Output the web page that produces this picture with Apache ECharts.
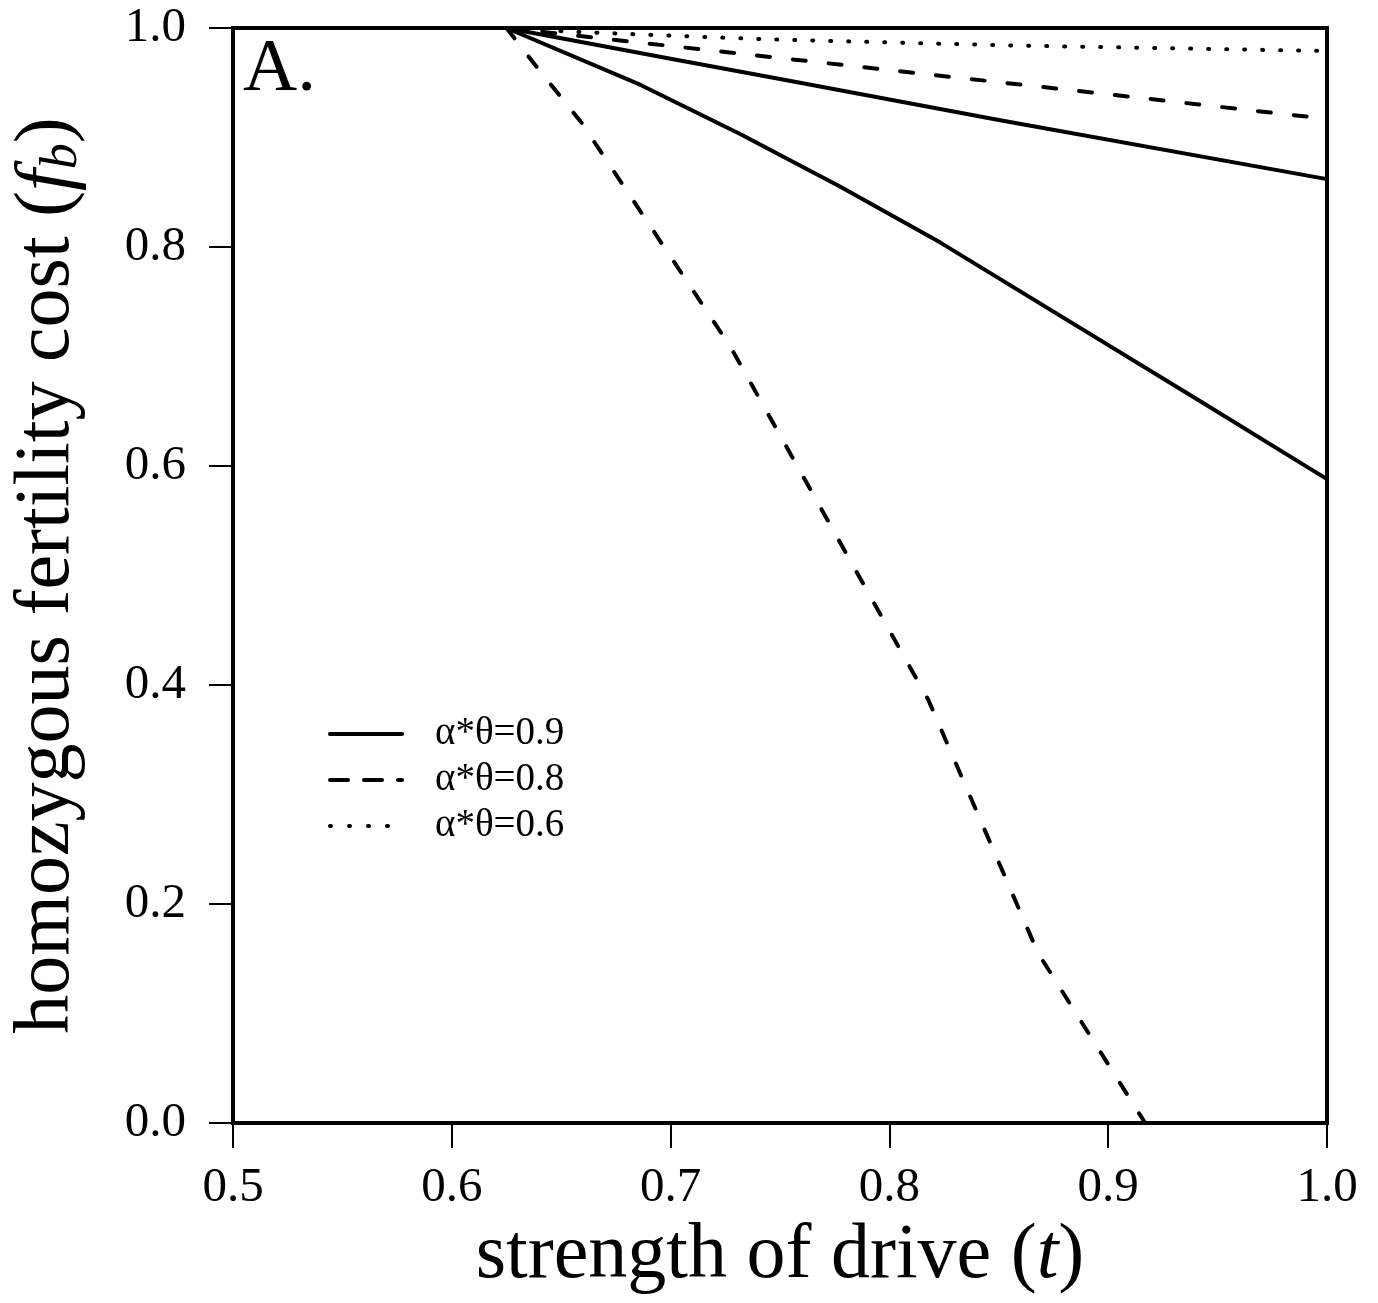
<!DOCTYPE html>
<html>
<head>
<meta charset="utf-8">
<script src="https://cdn.jsdelivr.net/npm/echarts@6/dist/echarts.min.js"></script>
<style>
html,body{margin:0;padding:0;background:#fff;}
#chart{width:1378px;height:1303px;}
</style>
</head>
<body>
<div id="chart"></div>
<script>
// ---- data ----
const xTicks = [0.5, 0.6, 0.7, 0.8, 0.9, 1.0];
const yTicks = [0.0, 0.2, 0.4, 0.6, 0.8, 1.0];
const legendNames = ['α*θ=0.9', 'α*θ=0.8', 'α*θ=0.6'];

// alpha*theta = 0.9 (solid), upper curve
const tSolidA = [0.625, 0.70, 0.75, 0.85, 1.0];
const fbSolidA = [1.0, 0.972, 0.9535, 0.916, 0.862];
// alpha*theta = 0.9 (solid), lower curve
const tSolidB = [0.625, 0.6863, 0.732, 0.7776, 0.8233, 0.9406, 1.0];
const fbSolidB = [1.0, 0.948, 0.903, 0.855, 0.804, 0.661, 0.588];
// alpha*theta = 0.8 (dashed), upper curve
const tDashA = [0.625, 0.75, 0.875, 1.0];
const fbDashA = [1.0, 0.9726, 0.945, 0.917];
// alpha*theta = 0.8 (dashed), lower curve
const tDashB = [0.625, 0.6374, 0.6484, 0.6594, 0.7274, 0.8178, 0.868, 0.9169];
const fbDashB = [1.0, 0.968, 0.9406, 0.9132, 0.7087, 0.3863, 0.155, 0.0];
// alpha*theta = 0.6 (dotted)
const tDot = [0.625, 0.651, 0.700, 0.747, 0.857, 1.0];
const fbDot = [1.0, 0.997, 0.993, 0.9895, 0.984, 0.979];

const FONT = 'Liberation Serif, Times New Roman, serif';
const pairs = (xs, ys) => xs.map((x, i) => [x, ys[i]]);

const DASH = [13, 23];
const DOT = [1, 17];

function lineSeries(name, xs, ys, type) {
  return {
    type: 'line', name: name, data: pairs(xs, ys),
    symbol: 'none', smooth: false,
    itemStyle: { color: '#000' },
    lineStyle: { color: '#000', width: 4, type: type, cap: 'round', join: 'round' },
    z: 3
  };
}

const chart = echarts.init(document.getElementById('chart'), null, { renderer: 'canvas' });
chart.setOption({
  animation: false,
  backgroundColor: '#fff',
  grid: { left: 232, right: 51, top: 28, bottom: 180, show: true, borderColor: '#000', borderWidth: 4, backgroundColor: 'transparent' },
  xAxis: {
    type: 'value', min: xTicks[0], max: xTicks[xTicks.length - 1], interval: 0.1,
    axisLine: { show: false },
    axisTick: { show: true, length: 25, inside: false, lineStyle: { color: '#000', width: 2 } },
    splitLine: { show: false },
    axisLabel: { margin: 41, fontFamily: FONT, fontSize: 49, color: '#000', formatter: v => v.toFixed(1) },
    name: 'strength of drive ({it|t})',
    nameLocation: 'middle', nameGap: 80,
    nameTextStyle: { fontFamily: FONT, fontSize: 78, color: '#000',
      rich: { it: { fontFamily: FONT, fontSize: 78, fontStyle: 'italic', color: '#000' } } }
  },
  yAxis: {
    type: 'value', min: yTicks[0], max: yTicks[yTicks.length - 1], interval: 0.2,
    axisLine: { show: false },
    axisTick: { show: true, length: 24, inside: false, lineStyle: { color: '#000', width: 2 } },
    splitLine: { show: false },
    axisLabel: { margin: 47, fontFamily: FONT, fontSize: 49, color: '#000', formatter: v => v.toFixed(1) },
    name: 'homozygous fertility cost ({it|f}{sub|b})',
    nameLocation: 'middle', nameGap: 145,
    nameTextStyle: { fontFamily: FONT, fontSize: 78, color: '#000', lineHeight: 80,
      rich: {
        it: { fontFamily: FONT, fontSize: 78, fontStyle: 'italic', color: '#000', lineHeight: 80 },
        sub: { fontFamily: FONT, fontSize: 52, fontStyle: 'italic', color: '#000', lineHeight: 40, verticalAlign: 'bottom' }
      } }
  },
  legend: {
    orient: 'vertical', left: 328, top: 714, padding: 0,
    itemWidth: 72, itemHeight: 36, itemGap: 6,
    itemStyle: { color: 'rgba(0,0,0,0)', borderWidth: 0, opacity: 0 },
    textStyle: { fontFamily: FONT, fontSize: 39, color: '#000', padding: [0, 0, 0, 28], lineHeight: 40 },
    data: [
      { name: legendNames[0], lineStyle: { type: 'solid', width: 4, color: '#000', cap: 'round' } },
      { name: legendNames[1], lineStyle: { type: [18, 16], width: 4, color: '#000', cap: 'round' } },
      { name: legendNames[2], lineStyle: { type: [1, 18], width: 4, color: '#000', cap: 'round' } }
    ],
    selectedMode: false
  },
  graphic: [
    { type: 'text', left: 243, top: 33, style: { text: 'A.', fontFamily: FONT, fontSize: 75, fill: '#000' } }
  ],
  series: [
    lineSeries(legendNames[0], tSolidA, fbSolidA, 'solid'),
    lineSeries(legendNames[0], tSolidB, fbSolidB, 'solid'),
    lineSeries(legendNames[1], tDashA, fbDashA, DASH),
    lineSeries(legendNames[1], tDashB, fbDashB, DASH),
    lineSeries(legendNames[2], tDot, fbDot, DOT)
  ]
});
</script>
</body>
</html>
